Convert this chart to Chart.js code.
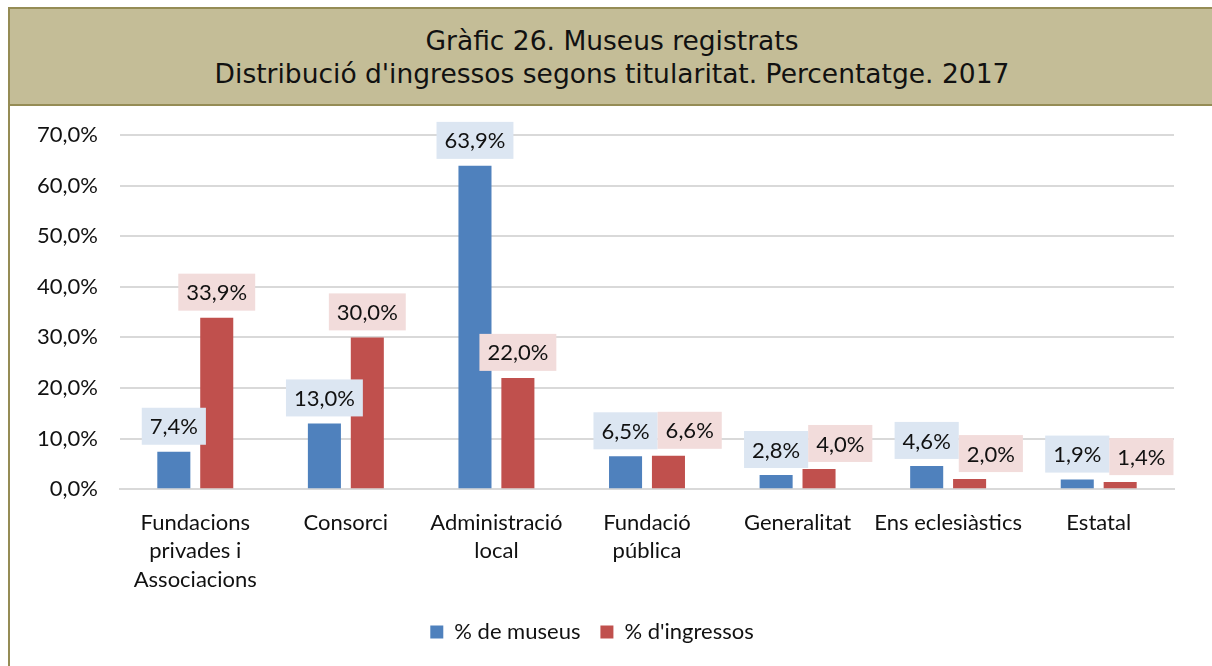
<!DOCTYPE html>
<html>
<head>
<meta charset="utf-8">
<script src="https://cdn.jsdelivr.net/npm/chart.js@4.4.1/dist/chart.umd.min.js"></script>
<style>
  body { margin: 0; background: #fff; width: 1212px; height: 666px; overflow: hidden; position: relative; }
  #frame { position: absolute; left: 8px; top: 7px; width: 1204px; height: 659px; border-left: 2px solid #958C55; }
  #header { position: absolute; left: 0; top: 0; width: 1204px; height: 95px; background: #C4BD97;
    border-top: 2px solid #958C55; border-bottom: 2px solid #958C55;
    font-family: "DejaVu Sans", sans-serif; font-size: 26.5px; color: #111;
    text-align: center; line-height: 33px; box-sizing: content-box; }
  #header div:first-child { padding-top: 15px; }
  #wrap { position: absolute; left: 0; top: 99px; width: 1202px; height: 560px; }
</style>
</head>
<body>
<div id="frame">
  <div id="header">
    <div>Gràfic 26. Museus registrats</div>
    <div>Distribució d'ingressos segons titularitat. Percentatge. 2017</div>
  </div>
  <div id="wrap"><canvas id="grafic"></canvas></div>
</div>
<script>
// Dades
const categories = [
  ['Fundacions', 'privades i', 'Associacions'],
  'Consorci',
  ['Administració', 'local'],
  ['Fundació', 'pública'],
  'Generalitat',
  'Ens eclesiàstics',
  'Estatal'
];
const museus = [7.4, 13.0, 63.9, 6.5, 2.8, 4.6, 1.9];
const ingressos = [33.9, 30.0, 22.0, 6.6, 4.0, 2.0, 1.4];
const yTicks = [0, 10, 20, 30, 40, 50, 60, 70];

const fontFamily = 'Lato, "Open Sans", sans-serif';
const fmt = v => v.toFixed(1).replace('.', ',') + '%';

// Etiquetes amb fons, estil Excel
const etiquetes = {
  id: 'etiquetes',
  afterDatasetsDraw(chart) {
    const ctx = chart.ctx;
    ctx.save();
    ctx.font = '22px ' + fontFamily;
    ctx.textAlign = 'center';
    ctx.textBaseline = 'middle';
    const bgs = ['#DCE6F2', '#F2DCDB'];
    const padX = 8, h = 37, gap = 7;
    const n = chart.data.labels.length;
    for (let i = 0; i < n; i++) {
      const boxes = [];
      chart.data.datasets.forEach((ds, d) => {
        const bar = chart.getDatasetMeta(d).data[i];
        const txt = fmt(ds.data[i]);
        const w = ctx.measureText(txt).width + padX * 2;
        boxes.push({ x: bar.x - w / 2, y: bar.y - gap - h, w: w, txt: txt, bg: bgs[d] });
      });
      // evitar solapament
      const a = boxes[0], b = boxes[1];
      const yOverlap = a.y < b.y + h && b.y < a.y + h;
      if (yOverlap && b.x < a.x + a.w) b.x = a.x + a.w;
      boxes.forEach(bx => {
        ctx.fillStyle = bx.bg;
        ctx.fillRect(bx.x, bx.y, bx.w, h);
        ctx.fillStyle = '#111';
        ctx.fillText(bx.txt, bx.x + bx.w / 2, bx.y + h / 2 + 1);
      });
    }
    ctx.restore();
  }
};

const ctx = document.getElementById('grafic').getContext('2d');
new Chart(ctx, {
  type: 'bar',
  data: {
    labels: categories,
    datasets: [
      {
        label: '% de museus',
        data: museus,
        backgroundColor: '#4F81BD',
        categoryPercentage: 0.57,
        barPercentage: 0.77
      },
      {
        label: "% d'ingressos",
        data: ingressos,
        backgroundColor: '#C0504D',
        categoryPercentage: 0.57,
        barPercentage: 0.77
      }
    ]
  },
  options: {
    responsive: true,
    maintainAspectRatio: false,
    animation: false,
    layout: { padding: { top: 0, right: 38, left: 0, bottom: 13 } },
    plugins: {
      legend: {
        position: 'bottom',
        labels: {
          boxWidth: 13,
          boxHeight: 13,
          padding: 20,
          color: '#111',
          font: { family: fontFamily, size: 22 }
        }
      },
      tooltip: { enabled: false },
      title: { display: false }
    },
    scales: {
      x: {
        afterFit(scale) { scale.height -= 12; },
        grid: { display: false, drawTicks: false },
        border: { color: '#D9D9D9', width: 2 },
        ticks: {
          color: '#111',
          padding: 19,
          maxRotation: 0,
          autoSkip: false,
          font: { family: fontFamily, size: 22, lineHeight: 1.3 }
        }
      },
      y: {
        min: 0,
        max: 70,
        afterFit(scale) { scale.width = 110; scale.paddingTop = 29; },
        afterBuildTicks(scale) { scale.ticks = yTicks.map(v => ({ value: v })); },
        grid: { color: '#D9D9D9', lineWidth: 2, drawTicks: false },
        border: { display: false },
        ticks: {
          color: '#111',
          padding: 22,
          font: { family: fontFamily, size: 22 },
          callback: v => fmt(v)
        }
      }
    }
  },
  plugins: [etiquetes]
});
</script>
</body>
</html>
